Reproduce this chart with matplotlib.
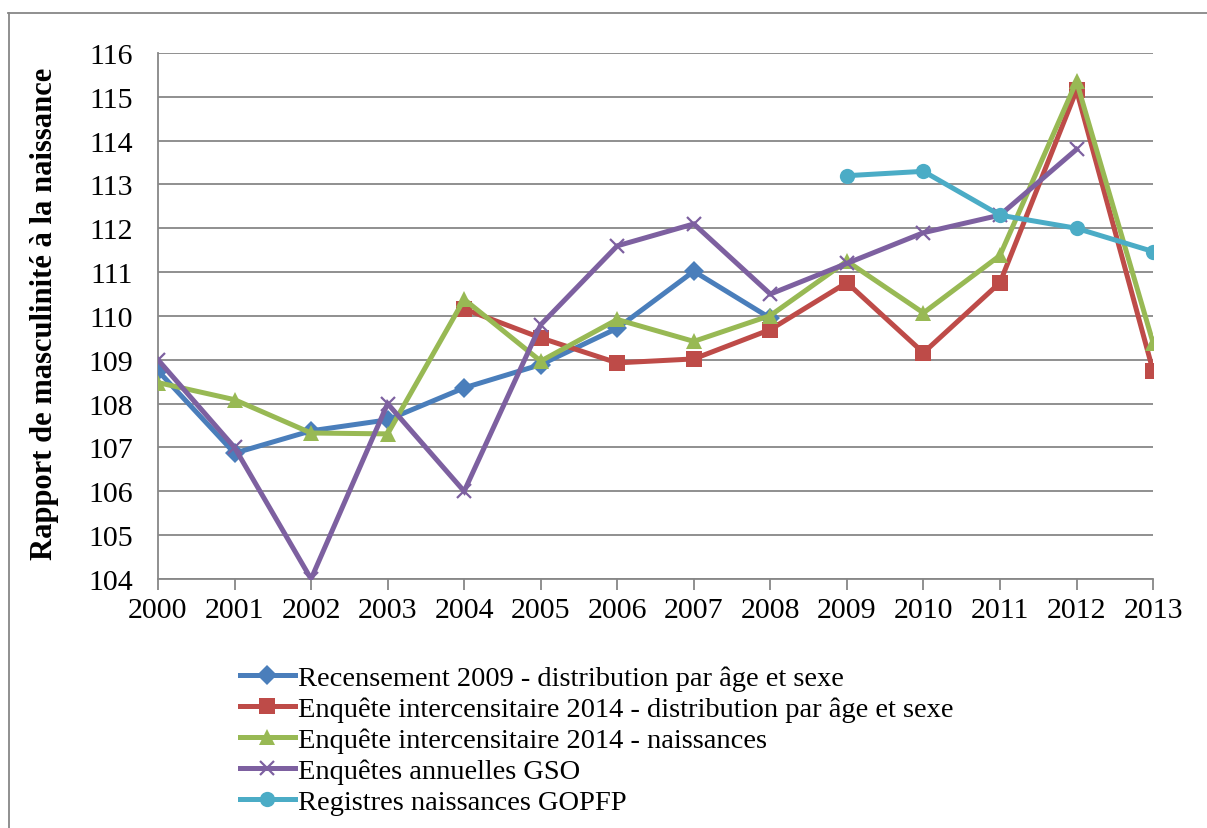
import numpy as np
import matplotlib.pyplot as plt
from matplotlib.lines import Line2D

# ---------------------------------------------------------
# data
# ---------------------------------------------------------
years = ["2000", "2001", "2002", "2003", "2004", "2005", "2006",
         "2007", "2008", "2009", "2010", "2011", "2012", "2013"]

recensement_2009 = [108.75, 106.87, 107.38, 107.63, 108.36, 108.89, 109.72,
                    111.02, 109.95, None, None, None, None, None]
enquete_2014_dist = [None, None, None, None, 110.16, 109.50, 108.93,
                     109.02, 109.69, 110.76, 109.16, 110.76, 115.15, 108.75]
enquete_2014_naiss = [108.48, 108.09, 107.33, 107.31, 110.38, 108.97, 109.92,
                      109.42, 110.01, 111.25, 110.07, 111.38, 115.35, 109.39]
gso = [109.0, 107.0, 104.0, 108.0, 106.0, 109.8, 111.6,
       112.1, 110.5, 111.2, 111.9, 112.3, 113.8, None]
gopfp = [None, None, None, None, None, None, None,
         None, None, 113.2, 113.3, 112.3, 112.0, 111.47]

labels = [
    "Recensement 2009 - distribution par âge et sexe",
    "Enquête intercensitaire 2014 - distribution par âge et sexe",
    "Enquête intercensitaire 2014 - naissances",
    "Enquêtes annuelles GSO",
    "Registres naissances GOPFP",
]

plt.rcParams["font.family"] = ["Liberation Serif", "DejaVu Serif"]

fig = plt.figure(figsize=(12.07, 8.29), dpi=100)
ax = fig.add_axes([0.1309, 0.3004, 0.8244, 0.6345])

x = np.arange(len(years))


def series(vals):
    return np.array([np.nan if v is None else v for v in vals], dtype=float)


styles = [
    (recensement_2009, "#4A7EBB", "D", 10),
    (enquete_2014_dist, "#BE4B48", "s", 11),
    (enquete_2014_naiss, "#98B954", "^", 12),
    (gso, "#7D60A0", "x", 10),
    (gopfp, "#4BACC6", "o", 11),
]

for (vals, col, mk, ms), lab in zip(styles, labels):
    mew = 1.6 if mk == "x" else 0
    ax.plot(x, series(vals), color=col, lw=3.6, marker=mk, ms=ms,
            markerfacecolor=col, markeredgecolor=col, markeredgewidth=mew,
            label=lab, solid_joinstyle="miter", zorder=3)

ax.set_xlim(0, len(years) - 1)
ax.set_ylim(104, 116)
ax.set_yticks(np.arange(104, 117, 1))
ax.set_xticks(x)
ax.set_xticklabels(years)

ax.grid(axis="y", color="#878787", lw=1.3)
ax.set_axisbelow(True)
for s in ["top", "right"]:
    ax.spines[s].set_visible(False)
for s in ["left", "bottom"]:
    ax.spines[s].set_color("#878787")
    ax.spines[s].set_linewidth(1.3)

ax.tick_params(axis="y", length=0, pad=18, labelsize=21.5)
ax.tick_params(axis="x", length=8, width=1.3, color="#878787",
               pad=5, labelsize=21.5)

fig.text(45 / 1207, 0.6218, "Rapport de masculinité à la naissance",
         rotation=90, ha="center", va="center", fontsize=22,
         fontweight="bold")

leg = fig.legend(loc="upper left", bbox_to_anchor=(0.1988, 0.1965),
                 frameon=False, fontsize=20.5, handlelength=1.93,
                 handletextpad=0.12, labelspacing=0.18,
                 borderpad=0, borderaxespad=0)

# chart area border (cropped at right and bottom)
fig.add_artist(Line2D([8 / 1207, 1.0], [1 - 13.5 / 829] * 2,
                      transform=fig.transFigure, color="#878787", lw=1.3))
fig.add_artist(Line2D([8.5 / 1207] * 2, [0.0, 1 - 13.5 / 829],
                      transform=fig.transFigure, color="#878787", lw=1.3))

fig.savefig("out.png", dpi=100)
